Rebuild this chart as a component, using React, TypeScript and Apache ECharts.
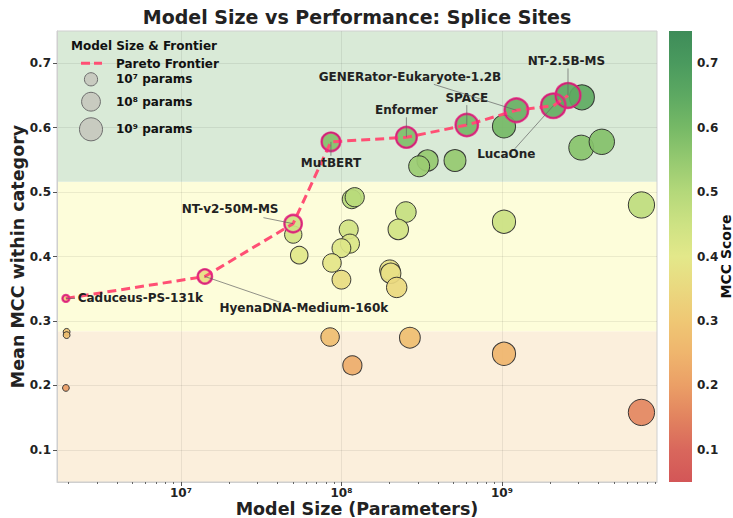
import React, { useEffect, useRef } from 'react';
import * as echarts from 'echarts';

// ---------- data ----------
const paretoNames = [
  'Caduceus-PS-131k',
  'HyenaDNA-Medium-160k',
  'NT-v2-50M-MS',
  'MutBERT',
  'Enformer',
  'SPACE',
  'GENERator-Eukaryote-1.2B',
  'LucaOne',
  'NT-2.5B-MS',
];
const paretoParams = [1.92e6, 1.41e7, 5.0e7, 8.6e7, 2.54e8, 6.04e8, 1.23e9, 2.09e9, 2.58e9];
const paretoMcc = [0.335, 0.369, 0.451, 0.578, 0.585, 0.604, 0.627, 0.634, 0.65];

const otherParams = [
  3.15e9, 1.03e9, 3.12e9, 4.19e9, 3.44e8, 3.05e8, 5.1e8, 1.16e8, 1.21e8, 2.52e8,
  2.26e8, 1.11e8, 1.13e8, 1.0e8, 5.01e7, 5.46e7, 8.73e7, 1.0e8, 2.0e8, 2.03e8,
  2.21e8, 1.03e9, 7.4e9, 8.5e7, 2.67e8, 1.17e8, 1.03e9, 7.4e9, 1.94e6, 1.94e6, 1.92e6,
];
const otherMcc = [
  0.647, 0.602, 0.569, 0.578, 0.549, 0.54, 0.549, 0.489, 0.492, 0.469,
  0.442, 0.442, 0.42, 0.413, 0.434, 0.402, 0.39, 0.364, 0.379, 0.374,
  0.352, 0.454, 0.48, 0.275, 0.274, 0.231, 0.249, 0.158, 0.283, 0.278, 0.196,
];

const yTickValues = [0.1, 0.2, 0.3, 0.4, 0.5, 0.6, 0.7];
const xMajorTicks = [1e7, 1e8, 1e9];
const xMinorTicks = [
  2e6, 3e6, 4e6, 5e6, 6e6, 7e6, 8e6, 9e6,
  2e7, 3e7, 4e7, 5e7, 6e7, 7e7, 8e7, 9e7,
  2e8, 3e8, 4e8, 5e8, 6e8, 7e8, 8e8, 9e8,
  2e9, 3e9, 4e9, 5e9, 6e9, 7e9, 8e9, 9e9,
];
const bandEdges = [0.05, 0.284, 0.516, 0.75];
const legendParams = [1e7, 1e8, 1e9];
const legendLabels = ['10⁷ params', '10⁸ params', '10⁹ params'];

// ---------- style ----------
const X_MIN = 1.69e6;
const X_MAX = 9.25e9;
const Y_MIN = 0.05;
const Y_MAX = 0.75;
const FONT = 'DejaVu Sans';
const bandColors = ['#fbefdc', '#fdfdda', '#d9ead7'];
const cmapColors = [
  '#d35657', '#d9675c', '#e2835f', '#eb9f66', '#efb56d', '#efc774', '#ead87f', '#e3e88a',
  '#cde283', '#b4d87a', '#95c970', '#76b966', '#5da962', '#4a9a5e', '#3e8c59',
];
const PARETO_LINE = '#ff4f74';
const RING = '#ee1d82';
const labelOffsets = [
  [74.5, -0.7], [99, 31.3], [-63, -14.3], [0, 20.7], [0, -27.2],
  [0, -27.5], [-106.4, -33.6], [-47, 48], [-1.6, -34.6],
];
const leaderEnds = [
  [9, 0], [76.7, 26.3], [-29.7, -6], [0, 14], [0, -20],
  [0, -20], [-82.5, -25.9], [-38.5, 43], [0, -27],
];
const sup: Record<number, string> = { 6: '⁶', 7: '⁷', 8: '⁸', 9: '⁹' };

const sizeFn = (p: number) => Math.sqrt(Math.max(180 * (Math.log10(p) - 6.03), 4));

export default function App() {
  const ref = useRef<HTMLDivElement>(null);
  useEffect(() => {
    if (!ref.current) return;
    const chart = echarts.init(ref.current, undefined, { renderer: 'svg' });

    const allData = [
      ...otherParams.map((p, i) => [p, otherMcc[i]]),
      ...paretoParams.map((p, i) => [p, paretoMcc[i]]),
    ];
    const paretoData = paretoParams.map((p, i) => [p, paretoMcc[i], i]);
    const bandData = bandColors.map((_, i) => [1e8, bandEdges[i], bandEdges[i + 1], i]);

    const gradStops = cmapColors
      .map((c, i) => ({ offset: 1 - i / (cmapColors.length - 1), color: c }))
      .reverse();

    const legendGraphics: any[] = [
      {
        type: 'text', x: 71, y: 46,
        style: { text: 'Model Size & Frontier', font: `bold 12px ${FONT}`, fill: '#111', verticalAlign: 'middle' },
      },
      {
        type: 'line', shape: { x1: 81, y1: 63.3, x2: 102, y2: 63.3 },
        style: { stroke: PARETO_LINE, lineWidth: 3, lineDash: [9, 4] },
      },
      {
        type: 'text', x: 116, y: 63.5,
        style: { text: 'Pareto Frontier', font: `bold 12px ${FONT}`, fill: '#111', verticalAlign: 'middle' },
      },
    ];
    const legendY = [79.3, 101.7, 129.3];
    legendParams.forEach((p, i) => {
      legendGraphics.push({
        type: 'circle', shape: { cx: 91, cy: legendY[i], r: sizeFn(p) / 2 },
        style: { fill: '#c8cbc0', stroke: '#6e6e6e', lineWidth: 1 },
      });
      legendGraphics.push({
        type: 'text', x: 116, y: legendY[i],
        style: { text: legendLabels[i], font: `bold 12px ${FONT}`, fill: '#111', verticalAlign: 'middle' },
      });
    });

    const option: any = {
      animation: false,
      backgroundColor: '#ffffff',
      textStyle: { fontFamily: FONT },
      grid: [
        {
          left: 57, top: 31, width: 600, height: 451, show: true, borderColor: '#cfcfcf', borderWidth: 1,
          backgroundColor: 'transparent', z: 1, containLabel: false, outerBoundsMode: 'none',
        },
        { left: 669, top: 31, width: 23, height: 451, containLabel: false, outerBoundsMode: 'none' },
      ],
      xAxis: [
        {
          type: 'log', logBase: 10, gridIndex: 0, min: X_MIN, max: X_MAX, z: 1,
          name: 'Model Size (Parameters)', nameLocation: 'middle', nameGap: 18, nameMoveOverlap: false,
          nameTextStyle: { fontSize: 17.5, fontWeight: 'bold', color: '#222', fontFamily: FONT, lineHeight: 17 },
          axisLine: { show: true, lineStyle: { color: '#cfcfcf' } },
          axisTick: { show: true, customValues: xMajorTicks, length: 4, lineStyle: { color: '#555' } },
          axisLabel: {
            customValues: xMajorTicks, margin: 4, fontSize: 12, fontWeight: 'bold', color: '#222', fontFamily: FONT,
            lineHeight: 13,
            formatter: (v: number) => {
              const l = Math.log10(v);
              if (Math.abs(l - Math.round(l)) > 1e-6) return '';
              return '10' + (sup[Math.round(l)] || '');
            },
          },
          splitLine: { show: true, lineStyle: { color: 'rgba(0,0,0,0.07)', width: 1 } },
        },
        { type: 'value', gridIndex: 1, min: 0, max: 1, show: false },
        {
          type: 'log', logBase: 10, gridIndex: 0, min: X_MIN, max: X_MAX, position: 'bottom', z: 1,
          axisLine: { show: false },
          axisTick: { show: true, customValues: xMinorTicks, length: 2, lineStyle: { color: '#666' } },
          axisLabel: { show: false },
          splitLine: { show: false },
        },
      ],
      yAxis: [
        {
          type: 'value', gridIndex: 0, min: Y_MIN, max: Y_MAX, z: 1,
          name: 'Mean MCC within category', nameLocation: 'middle', nameGap: 30, nameMoveOverlap: false,
          nameTextStyle: { fontSize: 17.5, fontWeight: 'bold', color: '#222', fontFamily: FONT },
          axisLine: { show: true, lineStyle: { color: '#cfcfcf' } },
          axisTick: { show: true, customValues: yTickValues, length: 4, lineStyle: { color: '#555' } },
          axisLabel: {
            customValues: yTickValues, margin: 6, fontSize: 12, fontWeight: 'bold', color: '#222', fontFamily: FONT,
            formatter: (v: number) => v.toFixed(1),
          },
          splitLine: { show: true, lineStyle: { color: 'rgba(0,0,0,0.07)', width: 1 } },
        },
        {
          type: 'value', gridIndex: 1, min: Y_MIN, max: Y_MAX, position: 'right',
          name: 'MCC Score', nameLocation: 'middle', nameGap: 27, nameRotate: 90, nameMoveOverlap: false,
          nameTextStyle: { fontSize: 14, fontWeight: 'bold', color: '#111', fontFamily: FONT },
          axisLine: { show: false },
          axisTick: { show: true, customValues: yTickValues, length: 3, lineStyle: { color: '#555' } },
          axisLabel: {
            customValues: yTickValues, margin: 5, fontSize: 12, fontWeight: 'bold', color: '#222', fontFamily: FONT,
            formatter: (v: number) => v.toFixed(1),
          },
          splitLine: { show: false },
        },
      ],
      visualMap: {
        type: 'continuous', show: false, min: Y_MIN, max: Y_MAX, dimension: 1, seriesIndex: 1,
        inRange: { color: cmapColors },
      },
      graphic: [
        {
          type: 'text', x: 357, y: 17,
          style: {
            text: 'Model Size vs Performance: Splice Sites', font: `bold 19px ${FONT}`, fill: '#222',
            align: 'center', verticalAlign: 'middle',
          },
          z: 20,
        },
        ...legendGraphics.map((g) => ({ ...g, z: 20 })),
      ],
      series: [
        {
          type: 'custom', name: 'bands', xAxisIndex: 0, yAxisIndex: 0, z: 0, silent: true,
          encode: { x: 0, y: [1, 2] },
          data: bandData,
          renderItem: (params: any, api: any) => {
            const cs = params.coordSys;
            const top = api.coord([1e8, api.value(2)])[1];
            const bot = api.coord([1e8, api.value(1)])[1];
            return {
              type: 'rect',
              shape: { x: cs.x, y: top, width: cs.width, height: bot - top },
              style: { fill: bandColors[api.value(3)] },
            };
          },
        },
        {
          type: 'scatter', name: 'models', xAxisIndex: 0, yAxisIndex: 0, z: 2,
          data: allData,
          symbol: 'circle',
          symbolSize: (v: number[]) => sizeFn(v[0]),
          itemStyle: { borderColor: '#2b2b2b', borderWidth: 1, opacity: 0.92 },
        },
        {
          type: 'line', name: 'Pareto Frontier', xAxisIndex: 0, yAxisIndex: 0, z: 3,
          data: paretoData.map((d) => [d[0], d[1]]),
          showSymbol: false, symbol: 'none',
          lineStyle: { color: PARETO_LINE, width: 3, type: [9, 5] },
        },
        {
          type: 'scatter', name: 'pareto rings', xAxisIndex: 0, yAxisIndex: 0, z: 4,
          data: paretoData.map((d) => [d[0], d[1]]),
          symbol: 'circle',
          symbolSize: (v: number[]) => sizeFn(v[0]),
          itemStyle: { color: 'rgba(0,0,0,0)', borderColor: RING, borderWidth: 2.6 },
        },
        {
          type: 'custom', name: 'annotations', xAxisIndex: 0, yAxisIndex: 0, z: 5, silent: true,
          encode: { x: 0, y: 1 },
          data: paretoData,
          renderItem: (params: any, api: any) => {
            const i = api.value(2);
            const pt = api.coord([api.value(0), api.value(1)]);
            const lo = labelOffsets[i];
            const le = leaderEnds[i];
            return {
              type: 'group',
              children: [
                {
                  type: 'line',
                  shape: { x1: pt[0], y1: pt[1], x2: pt[0] + le[0], y2: pt[1] + le[1] },
                  style: { stroke: '#666', lineWidth: 0.9, opacity: 0.8 },
                },
                {
                  type: 'text', x: pt[0] + lo[0], y: pt[1] + lo[1],
                  style: {
                    text: paretoNames[i], font: `bold 12px ${FONT}`, fill: '#222',
                    align: 'center', verticalAlign: 'middle',
                  },
                },
              ],
            };
          },
        },
        {
          type: 'custom', name: 'colorbar', xAxisIndex: 1, yAxisIndex: 1, z: 2, silent: true,
          encode: { x: 0, y: 1 },
          data: [[0, Y_MIN, Y_MAX]],
          renderItem: (params: any, api: any) => {
            const cs = params.coordSys;
            const top = api.coord([0, Y_MAX])[1];
            const bot = api.coord([0, Y_MIN])[1];
            return {
              type: 'rect',
              shape: { x: cs.x, y: top, width: cs.width, height: bot - top },
              style: { fill: new echarts.graphic.LinearGradient(0, 0, 0, 1, gradStops) },
            };
          },
        },
      ],
    };
    chart.setOption(option);
    return () => chart.dispose();
  }, []);

  return (
    <div
      ref={ref}
      style={{ position: 'fixed', left: 0, top: 0, width: 733, height: 518, background: '#fff' }}
    />
  );
}
